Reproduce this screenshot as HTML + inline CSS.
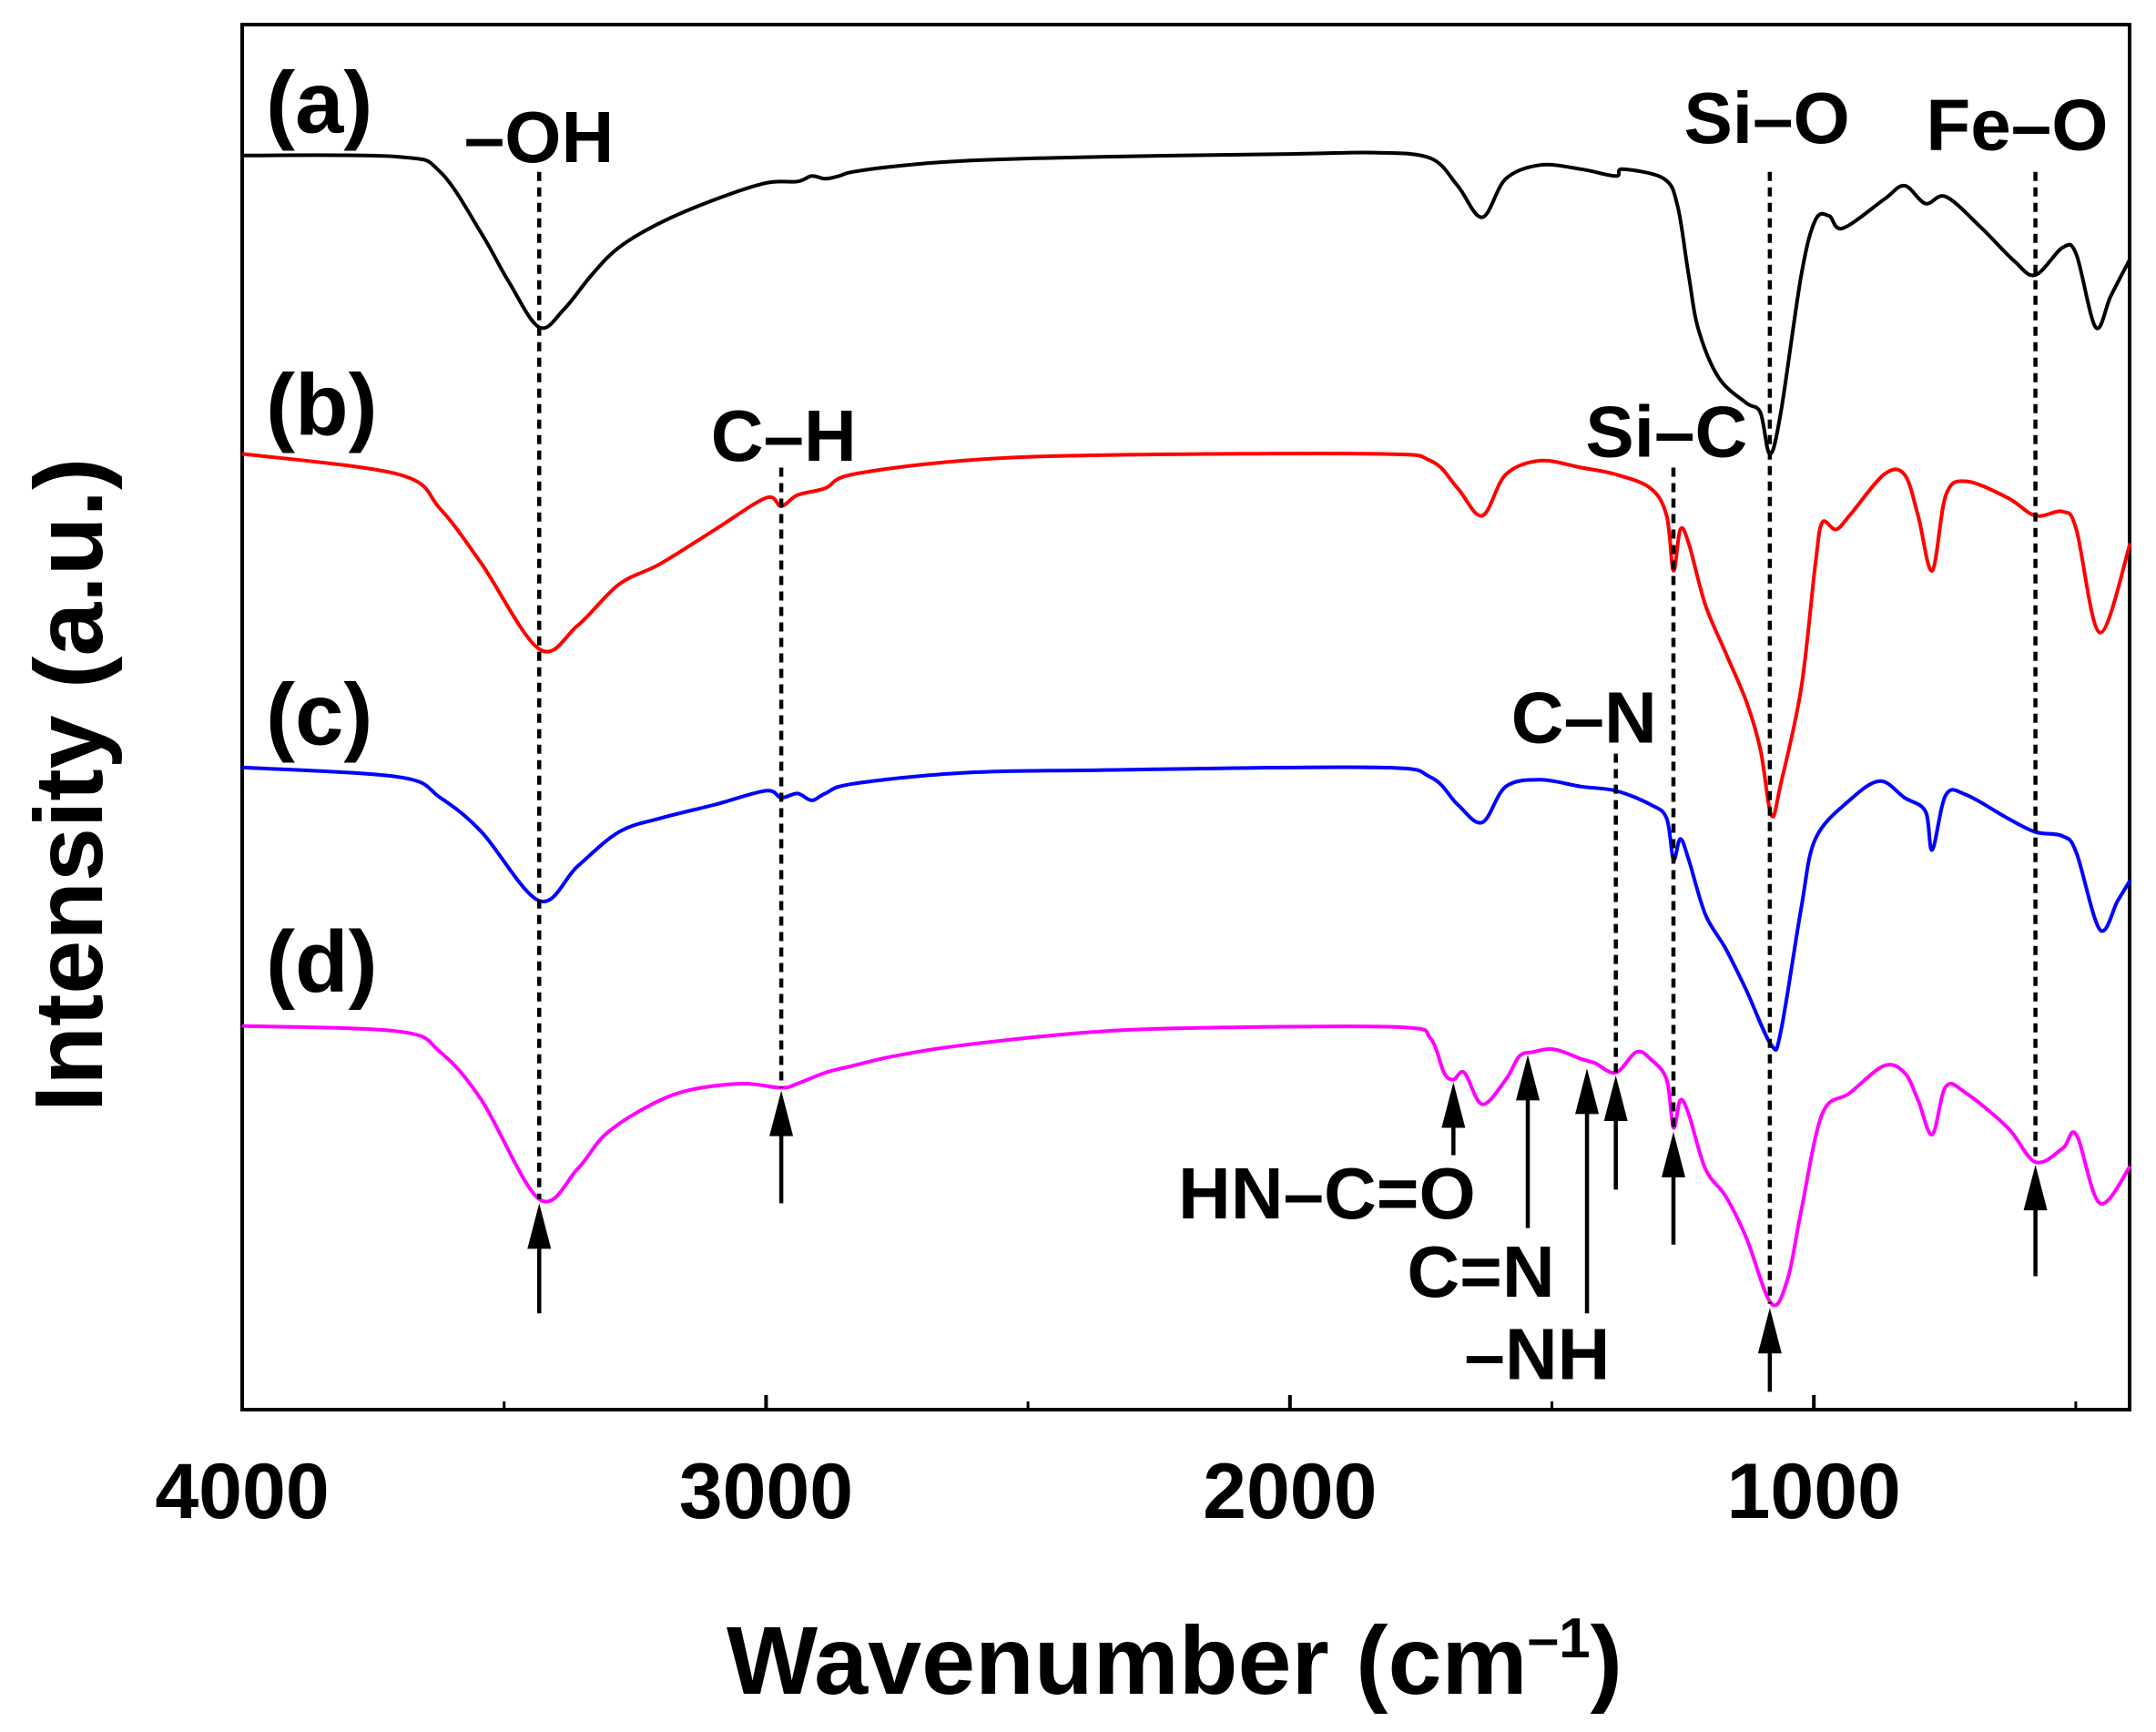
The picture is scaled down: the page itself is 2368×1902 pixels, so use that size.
<!DOCTYPE html>
<html><head><meta charset="utf-8">
<style>
html,body{margin:0;padding:0;background:#fff;}
svg{display:block;font-family:"Liberation Sans",Arial,sans-serif;font-weight:bold;}
</style></head>
<body>
<svg id="chart" width="2368" height="1902" viewBox="0 0 2368 1902" xmlns="http://www.w3.org/2000/svg">
<g id="plot"></g>
</svg>
<script>
// ---- data (wavenumber cm-1, intensity a.u. offset) ----
const wnA=[4000,3701,3622,3543,3491,3433,3386,3333,3281,3202,3097,3000,2940,2913,2887,2861,2835,2756,2625,2362,2000,1837,1732,1680,1633,1588,1522,1444,1378,1365,1286,1260,1239,1220,1181,1129,1102,1084,1063,1024,997,971,945,866,827,787,748,682,617,577,525,499,462,433,396];
const intA=[912,911,900,855,820,787,800,825,845,863,880,892,893,897,895,897,900,904,908,911,913,914,910,890,867,895,905,902,897,902,895,875,825,785,750,732,725,695,725,825,865,868,859,880,890,877,882,860,835,825,845,840,787,810,837];
const wnB=[4000,3701,3622,3543,3433,3360,3281,3202,3097,3000,2971,2940,2887,2835,2625,2362,1837,1732,1680,1633,1588,1522,1444,1378,1312,1281,1268,1255,1239,1207,1168,1129,1102,1081,1063,1024,997,984,958,932,866,827,801,774,748,709,630,577,525,499,454,396];
const intB=[695,680,655,615,553,570,600,615,640,663,657,665,670,680,690,694,695,690,670,650,680,690,685,680,670,650,610,640,630,585,550,515,480,432,455,525,615,645,640,650,680,680,650,610,665,675,663,650,653,640,565,630];
const wnC=[4000,3701,3622,3543,3433,3360,3281,3202,3097,3000,2971,2940,2913,2887,2835,2625,2362,1837,1732,1680,1633,1588,1522,1444,1378,1312,1281,1268,1255,1239,1207,1168,1129,1081,1063,1024,997,932,874,827,787,774,748,709,630,577,525,499,454,420,396];
const intC=[467,460,445,420,370,395,420,430,440,450,445,448,443,448,455,463,465,467,460,440,427,453,458,453,450,440,430,400,415,400,360,335,305,265,275,365,415,443,457,445,435,407,447,447,430,420,417,405,349,370,385];
const wnD=[4000,3701,3622,3543,3433,3360,3307,3228,3150,3045,2971,2940,2887,2835,2756,2625,2362,2100,1785,1732,1706,1688,1667,1633,1588,1562,1536,1496,1444,1418,1378,1339,1312,1281,1268,1255,1239,1207,1168,1129,1081,1050,1024,984,932,866,827,801,774,748,709,630,577,525,499,454,396];
const intD=[279,275,260,225,153,175,200,220,232,237,234,237,245,250,257,265,275,278,278,270,245,240,245,222,240,257,260,262,255,252,245,260,255,240,205,225,215,175,155,125,77,95,145,215,230,250,245,225,200,235,230,205,180,190,200,150,177];
const xTicks=[4000,3000,2000,1000];
const xMinor=[3500,2500,1500,500];
const seriesLabels=["(a)","(b)","(c)","(d)"];
const labelInt=[950,730,505,325];

// ---- scales ----
const X0=266, PX_PER=575.4;
function xs(w){return X0+(4000-w)/1000*PX_PER;}
function ys(v){return (1025-v)*1.5102;}
const L=266,R=2339,T=27,B=1548;
const NS="http://www.w3.org/2000/svg";
const g=document.getElementById('plot');
function el(tag,attrs,parent){const e=document.createElementNS(NS,tag);for(const k in attrs)e.setAttribute(k,attrs[k]);(parent||g).appendChild(e);return e;}

// frame
const frame=el('rect',{x:L,y:T,width:R-L,height:B-T,fill:'none',stroke:'#000','stroke-width':4});



// ticks
xTicks.forEach(t=>{
  const ln=el('line',{x1:xs(t),x2:xs(t),y1:B,y2:B-16,stroke:'#000','stroke-width':4});
  
  
  const tx=el('text',{x:xs(t),y:1667,'text-anchor':'middle','font-size':86});
  tx.textContent=t;
  
  
});
xMinor.forEach(t=>{
  const ln=el('line',{x1:xs(t),x2:xs(t),y1:B,y2:B-9,stroke:'#000','stroke-width':3});
  
  
});

// smooth path (catmull-rom)
function smooth(pts){
  let d='M'+pts[0][0].toFixed(1)+','+pts[0][1].toFixed(1);
  for(let i=0;i<pts.length-1;i++){
    const p0=pts[Math.max(0,i-1)],p1=pts[i],p2=pts[i+1],p3=pts[Math.min(pts.length-1,i+2)];
    const c1=[p1[0]+(p2[0]-p0[0])/6,p1[1]+(p2[1]-p0[1])/6];
    const c2=[p2[0]-(p3[0]-p1[0])/6,p2[1]-(p3[1]-p1[1])/6];
    d+=' C'+c1[0].toFixed(1)+','+c1[1].toFixed(1)+' '+c2[0].toFixed(1)+','+c2[1].toFixed(1)+' '+p2[0].toFixed(1)+','+p2[1].toFixed(1);
  }
  return d;
}

// series
const series=[[wnA,intA,'#000','spectrum-a'],[wnB,intB,'#ff0000','spectrum-b'],[wnC,intC,'#0000ff','spectrum-c'],[wnD,intD,'#ff00ff','spectrum-d']];
series.forEach(s=>{
  const pts=s[0].map((w,i)=>[xs(w),ys(s[1][i])]);
  const p=el('path',{d:smooth(pts),fill:'none',stroke:s[2],'stroke-width':4,'stroke-linejoin':'round'});
  
  
});

// series labels
seriesLabels.forEach((t,i)=>{
  const tx=el('text',{x:292,y:ys(labelInt[i])+32,'font-size':96});
  tx.textContent=t;
  
  
});

// dashed guide lines
const guideWn=[3433,2971,1084,577,1268,1378];
const guideTop=[900,685,900,900,685,477];
const guideBot=[153,234,77,180,205,245];
guideWn.forEach((w,i)=>{
  const ln=el('line',{x1:xs(w),x2:xs(w),y1:ys(guideTop[i]),y2:ys(guideBot[i]),stroke:'#000','stroke-width':4.5,'stroke-dasharray':'10,7'});
  
  
});

// arrows
const arrWn=[3433,2971,1084,577,1268,1378,1688,1546,1433];
const arrTail=[70,150,13,97,120,160,185,132,70];
const arrHead=[150,232,74,178,202,243,238,258,248];
arrWn.forEach((w,i)=>{
  const x=xs(w),yt=ys(arrHead[i]),yb=ys(arrTail[i]);
  const ln=el('line',{x1:x,x2:x,y1:yb,y2:yt+30,stroke:'#000','stroke-width':4.5});
  
  
  const hd=el('polygon',{points:`${x},${yt} ${x-13},${yt+50} ${x+13},${yt+50}`,fill:'#000'});
  
  
});

// peak labels
const pkText=["\u2013OH","C\u2013H","Si\u2013O","Fe\u2013O","Si\u2013C","C\u2013N","HN\u2013C=O","C=N","\u2013NH"];
const pkX=[392,570,1285,1467,1212,1152,965,1077,1118];
const pkY=[118,335,104,109,332,540,886,943,1003];
pkText.forEach((t,i)=>{
  const tx=el('text',{x:pkX[i]*1.5102,y:pkY[i]*1.5102,'text-anchor':'middle','font-size':80});
  tx.textContent=t;
  
  
});

// axis titles
const xt=el('text',{x:1290,y:1860,'text-anchor':'middle','font-size':106});
xt.innerHTML='Wavenumber (cm<tspan dy="-40" font-size="62">\u20131</tspan><tspan dy="40">)</tspan>';


const yt=el('text',{x:0,y:0,'text-anchor':'middle','font-size':106,transform:'translate(112,862) rotate(-90)'});
yt.textContent='Intensity (a.u.)';


</script>
</body></html>
